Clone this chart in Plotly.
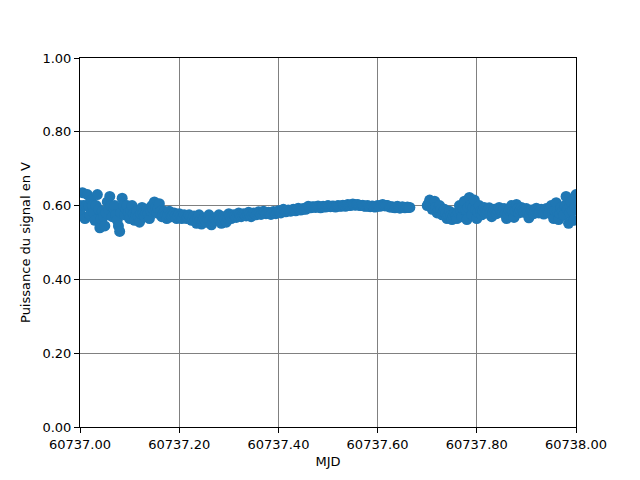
import plotly.graph_objects as go

mjd_day = 60737.0

# samples, first set
mjd_frac_a = [
    0.000, 0.005, 0.010, 0.015, 0.020, 0.025, 0.030, 0.035, 0.040, 0.045,
    0.050, 0.055, 0.060, 0.065, 0.070, 0.075, 0.080, 0.085, 0.090, 0.095,
    0.100, 0.105, 0.110, 0.115, 0.120, 0.125, 0.130, 0.135, 0.140, 0.145,
    0.150, 0.155, 0.160, 0.165, 0.170, 0.175, 0.180, 0.185, 0.190, 0.195,
    0.200, 0.205, 0.210, 0.215, 0.220, 0.225, 0.230, 0.235, 0.240, 0.245,
    0.250, 0.255, 0.260, 0.265, 0.270, 0.275, 0.280, 0.285, 0.290, 0.295,
    0.300, 0.305, 0.310, 0.315, 0.320, 0.325, 0.330, 0.335, 0.340, 0.345,
    0.350, 0.355, 0.360, 0.365, 0.370, 0.375, 0.380, 0.385, 0.390, 0.395,
    0.400, 0.405, 0.410, 0.415, 0.420, 0.425, 0.430, 0.435, 0.440, 0.445,
    0.450, 0.455, 0.460, 0.465, 0.470, 0.475, 0.480, 0.485, 0.490, 0.495,
    0.500, 0.505, 0.510, 0.515, 0.520, 0.525, 0.530, 0.535, 0.540, 0.545,
    0.550, 0.555, 0.560, 0.565, 0.570, 0.575, 0.580, 0.585, 0.590, 0.595,
    0.600, 0.605, 0.610, 0.615, 0.620, 0.625, 0.630, 0.635, 0.640, 0.645,
    0.650, 0.655, 0.660, 0.665,
    0.700, 0.705, 0.710, 0.715, 0.720, 0.725, 0.730, 0.735, 0.740, 0.745,
    0.750, 0.755, 0.760, 0.765, 0.770, 0.775, 0.780, 0.785, 0.790, 0.795,
    0.800, 0.805, 0.810, 0.815, 0.820, 0.825, 0.830, 0.835, 0.840, 0.845,
    0.850, 0.855, 0.860, 0.865, 0.870, 0.875, 0.880, 0.885, 0.890, 0.895,
    0.900, 0.905, 0.910, 0.915, 0.920, 0.925, 0.930, 0.935, 0.940, 0.945,
    0.950, 0.955, 0.960, 0.965, 0.970, 0.975, 0.980, 0.985, 0.990, 0.995,
    1.000,
]
power_v_a = [
    0.600, 0.635, 0.565, 0.630, 0.575, 0.600, 0.560, 0.630, 0.540, 0.585,
    0.545, 0.610, 0.625, 0.570, 0.600, 0.560, 0.530, 0.620, 0.575, 0.600,
    0.565, 0.600, 0.560, 0.585, 0.555, 0.595, 0.570, 0.590, 0.565, 0.600,
    0.610, 0.580, 0.605, 0.570, 0.585, 0.565, 0.585, 0.570, 0.580, 0.565,
    0.578, 0.565, 0.575, 0.565, 0.575, 0.560, 0.572, 0.552, 0.575, 0.550,
    0.565, 0.555, 0.575, 0.548, 0.565, 0.560, 0.575, 0.552, 0.570, 0.555,
    0.578, 0.565, 0.575, 0.568, 0.580, 0.570, 0.578, 0.572, 0.582, 0.570,
    0.580, 0.575, 0.583, 0.576, 0.585, 0.578, 0.582, 0.576, 0.584, 0.578,
    0.586, 0.580, 0.590, 0.583, 0.588, 0.585, 0.590, 0.586, 0.593, 0.588,
    0.592, 0.590, 0.598, 0.594, 0.597, 0.595, 0.599, 0.594, 0.598, 0.596,
    0.600, 0.597, 0.599, 0.596, 0.600, 0.598, 0.601, 0.598, 0.603, 0.600,
    0.604, 0.601, 0.603, 0.600, 0.601, 0.598, 0.600, 0.597, 0.599, 0.596,
    0.600, 0.598, 0.603, 0.599, 0.600, 0.596, 0.597, 0.594, 0.598, 0.593,
    0.597, 0.594, 0.596, 0.595,
    0.600, 0.615, 0.590, 0.612, 0.580, 0.600, 0.575, 0.590, 0.565, 0.585,
    0.562, 0.578, 0.565, 0.600, 0.570, 0.612, 0.562, 0.622, 0.575, 0.615,
    0.565, 0.600, 0.575, 0.595, 0.580, 0.594, 0.570, 0.590, 0.578, 0.595,
    0.582, 0.592, 0.565, 0.588, 0.600, 0.568, 0.603, 0.580, 0.595, 0.582,
    0.592, 0.567, 0.588, 0.578, 0.593, 0.580, 0.590, 0.577, 0.592, 0.580,
    0.600, 0.565, 0.608, 0.562, 0.595, 0.575, 0.625, 0.552, 0.610, 0.560,
    0.630,
]

# samples, second set (taken between the first ones)
mjd_frac_b = [
    0.0025, 0.0075, 0.0125, 0.0175, 0.0225, 0.0275, 0.0325, 0.0375, 0.0425, 0.0475,
    0.0525, 0.0575, 0.0625, 0.0675, 0.0725, 0.0775, 0.0825, 0.0875, 0.0925, 0.0975,
    0.1025, 0.1075, 0.1125, 0.1175, 0.1225, 0.1275, 0.1325, 0.1375, 0.1425, 0.1475,
    0.1525, 0.1575, 0.1625, 0.1675, 0.1725, 0.1775, 0.1825, 0.1875, 0.1925, 0.1975,
    0.2025, 0.2075, 0.2125, 0.2175, 0.2225, 0.2275, 0.2325, 0.2375, 0.2425, 0.2475,
    0.2525, 0.2575, 0.2625, 0.2675, 0.2725, 0.2775, 0.2825, 0.2875, 0.2925, 0.2975,
    0.3025, 0.3075, 0.3125, 0.3175, 0.3225, 0.3275, 0.3325, 0.3375, 0.3425, 0.3475,
    0.3525, 0.3575, 0.3625, 0.3675, 0.3725, 0.3775, 0.3825, 0.3875, 0.3925, 0.3975,
    0.4025, 0.4075, 0.4125, 0.4175, 0.4225, 0.4275, 0.4325, 0.4375, 0.4425, 0.4475,
    0.4525, 0.4575, 0.4625, 0.4675, 0.4725, 0.4775, 0.4825, 0.4875, 0.4925, 0.4975,
    0.5025, 0.5075, 0.5125, 0.5175, 0.5225, 0.5275, 0.5325, 0.5375, 0.5425, 0.5475,
    0.5525, 0.5575, 0.5625, 0.5675, 0.5725, 0.5775, 0.5825, 0.5875, 0.5925, 0.5975,
    0.6025, 0.6075, 0.6125, 0.6175, 0.6225, 0.6275, 0.6325, 0.6375, 0.6425, 0.6475,
    0.6525, 0.6575, 0.6625,
    0.7025, 0.7075, 0.7125, 0.7175, 0.7225, 0.7275, 0.7325, 0.7375, 0.7425, 0.7475,
    0.7525, 0.7575, 0.7625, 0.7675, 0.7725, 0.7775, 0.7825, 0.7875, 0.7925, 0.7975,
    0.8025, 0.8075, 0.8125, 0.8175, 0.8225, 0.8275, 0.8325, 0.8375, 0.8425, 0.8475,
    0.8525, 0.8575, 0.8625, 0.8675, 0.8725, 0.8775, 0.8825, 0.8875, 0.8925, 0.8975,
    0.9025, 0.9075, 0.9125, 0.9175, 0.9225, 0.9275, 0.9325, 0.9375, 0.9425, 0.9475,
    0.9525, 0.9575, 0.9625, 0.9675, 0.9725, 0.9775, 0.9825, 0.9875, 0.9925, 0.9975,
]
power_v_b = [
    0.575, 0.600, 0.600, 0.600, 0.615, 0.580, 0.600, 0.590, 0.565, 0.570,
    0.580, 0.590, 0.600, 0.595, 0.575, 0.545, 0.580, 0.600, 0.590, 0.580,
    0.585, 0.578, 0.575, 0.570, 0.578, 0.580, 0.580, 0.578, 0.585, 0.590,
    0.595, 0.592, 0.585, 0.578, 0.575, 0.575, 0.576, 0.575, 0.572, 0.572,
    0.570, 0.570, 0.570, 0.570, 0.568, 0.565, 0.562, 0.565, 0.562, 0.558,
    0.560, 0.565, 0.560, 0.558, 0.563, 0.567, 0.563, 0.562, 0.563, 0.567,
    0.571, 0.570, 0.572, 0.574, 0.575, 0.574, 0.575, 0.577, 0.576, 0.575,
    0.578, 0.579, 0.580, 0.580, 0.582, 0.580, 0.579, 0.580, 0.581, 0.582,
    0.583, 0.585, 0.586, 0.586, 0.586, 0.588, 0.588, 0.590, 0.590, 0.590,
    0.591, 0.594, 0.596, 0.596, 0.596, 0.597, 0.596, 0.596, 0.597, 0.598,
    0.598, 0.598, 0.598, 0.598, 0.599, 0.599, 0.600, 0.601, 0.601, 0.602,
    0.602, 0.602, 0.601, 0.600, 0.599, 0.599, 0.598, 0.598, 0.597, 0.598,
    0.599, 0.600, 0.601, 0.600, 0.598, 0.596, 0.595, 0.596, 0.595, 0.595,
    0.595, 0.595, 0.595,
    0.605, 0.600, 0.600, 0.595, 0.590, 0.588, 0.583, 0.578, 0.575, 0.573,
    0.572, 0.570, 0.582, 0.585, 0.590, 0.588, 0.595, 0.600, 0.595, 0.590,
    0.582, 0.585, 0.585, 0.586, 0.587, 0.582, 0.580, 0.584, 0.586, 0.588,
    0.587, 0.578, 0.576, 0.593, 0.585, 0.586, 0.592, 0.588, 0.588, 0.587,
    0.580, 0.577, 0.583, 0.585, 0.586, 0.585, 0.583, 0.584, 0.586, 0.590,
    0.583, 0.586, 0.585, 0.578, 0.585, 0.600, 0.590, 0.580, 0.585, 0.595,
]

x_ticks = [60737.0, 60737.2, 60737.4, 60737.6, 60737.8, 60738.0]
y_ticks = [0.0, 0.2, 0.4, 0.6, 0.8, 1.0]

# merge both sample sets in time order
pairs = sorted(zip(mjd_frac_a + mjd_frac_b, power_v_a + power_v_b))
mjd = [mjd_day + p[0] for p in pairs]
power = [p[1] for p in pairs]

fig = go.Figure()
fig.add_trace(go.Scatter(
    x=mjd, y=power, mode="markers",
    marker=dict(size=11, color="#1f77b4", line=dict(width=0)),
    showlegend=False,
))

axis_common = dict(
    showline=True, linecolor="black", linewidth=1, mirror=True,
    ticks="outside", ticklen=5, tickwidth=1, tickcolor="black",
    showgrid=True, gridcolor="#808080", gridwidth=1,
    zeroline=False, tickfont=dict(size=13, color="black"),
    title_font=dict(size=13, color="black"),
)

fig.update_xaxes(range=[60737.0, 60738.0], tickvals=x_ticks,
                 ticktext=[f"{v:.2f}" for v in x_ticks],
                 title_text="MJD", title_standoff=6, **axis_common)
fig.update_yaxes(range=[0.0, 1.0], tickvals=y_ticks,
                 ticktext=[f"{v:.2f}" for v in y_ticks],
                 title_text="Puissance du signal en V", title_standoff=8,
                 **axis_common)

fig.update_layout(
    width=632, height=472,
    margin=dict(l=72, r=64, t=50, b=53),
    paper_bgcolor="white", plot_bgcolor="white",
    font=dict(family="DejaVu Sans", size=13, color="black"),
)

fig.write_html("out.html")
